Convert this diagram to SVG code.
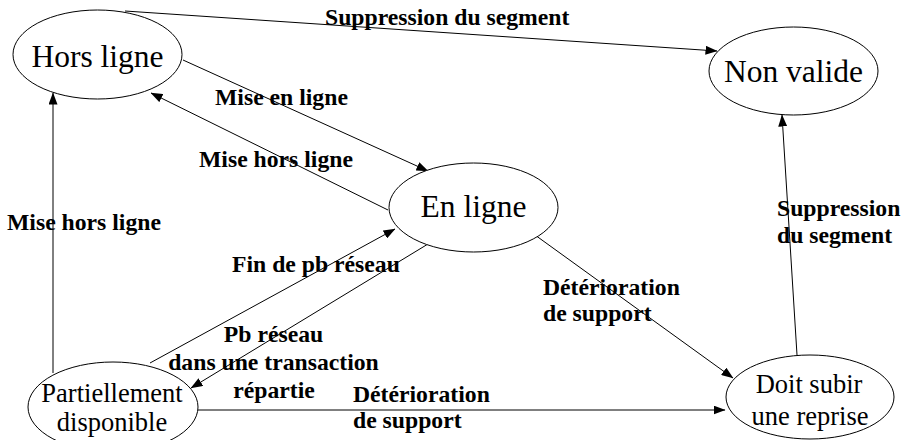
<svg xmlns="http://www.w3.org/2000/svg" width="906" height="440" viewBox="0 0 906 440">
<style>
.node ellipse{fill:#fff;stroke:#000;stroke-width:1}
text{font-family:'Liberation Serif','Times New Roman',Times,serif}
.nt{fill:#000;text-anchor:middle}
.big{font-size:31.5px}
.med{font-size:26.5px}
.lbl{font-weight:bold;font-size:23.7px;fill:#000}
.edges line{stroke:#000;stroke-width:1;fill:none;marker-end:url(#ah)}
</style>
<defs>
<marker id="ah" markerUnits="userSpaceOnUse" markerWidth="12" markerHeight="9" refX="11.5" refY="4.5" orient="auto">
<path d="M0,0 L12,4.5 L0,9 z" fill="#000"/>
</marker>
</defs>
<rect width="906" height="440" fill="#fff"/>
<g class="edges">
<line x1="125" y1="11" x2="717" y2="51"/>
<line x1="183" y1="60" x2="428" y2="171"/>
<line x1="388" y1="210" x2="151" y2="93"/>
<line x1="53" y1="373" x2="53" y2="93"/>
<line x1="150" y1="363" x2="395" y2="229"/>
<line x1="428" y1="244" x2="191" y2="388"/>
<line x1="535" y1="235" x2="733" y2="378"/>
<line x1="198" y1="410" x2="725" y2="410"/>
<line x1="797" y1="355" x2="782" y2="115"/>
</g>
<g id="hors-ligne" class="node">
<ellipse cx="97.5" cy="54.5" rx="84.5" ry="44.5"/>
<text class="nt big" x="97.5" y="67">Hors ligne</text>
</g>
<g id="non-valide" class="node">
<ellipse cx="793.5" cy="71" rx="84.5" ry="44"/>
<text class="nt big" x="793.5" y="82">Non valide</text>
</g>
<g id="en-ligne" class="node">
<ellipse cx="473.5" cy="207.5" rx="84.5" ry="44.5"/>
<text class="nt big" x="473.5" y="217">En ligne</text>
</g>
<g id="partiellement-disponible" class="node">
<ellipse cx="113" cy="407" rx="85" ry="45"/>
<text class="nt med" x="112" y="402">Partiellement</text>
<text class="nt med" x="112" y="431">disponible</text>
</g>
<g id="doit-subir" class="node">
<ellipse cx="810" cy="397" rx="84" ry="42"/>
<text class="nt med" x="809" y="393">Doit subir</text>
<text class="nt med" x="810" y="425">une reprise</text>
</g>
<g id="labels">
<text class="lbl" x="325" y="25">Suppression du segment</text>
<text class="lbl" x="215" y="105">Mise en ligne</text>
<text class="lbl" x="199" y="167">Mise hors ligne</text>
<text class="lbl" x="7" y="230">Mise hors ligne</text>
<text class="lbl" x="232" y="272">Fin de pb réseau</text>
<text class="lbl" x="273.5" y="342" text-anchor="middle">Pb réseau</text>
<text class="lbl" x="273.5" y="370" text-anchor="middle">dans une transaction</text>
<text class="lbl" x="274" y="398" text-anchor="middle">répartie</text>
<text class="lbl" x="543" y="295">Détérioration</text>
<text class="lbl" x="543" y="321">de support</text>
<text class="lbl" x="353" y="402">Détérioration</text>
<text class="lbl" x="353" y="428">de support</text>
<text class="lbl" x="777" y="216">Suppression</text>
<text class="lbl" x="777" y="243">du segment</text>
</g>
</svg>
